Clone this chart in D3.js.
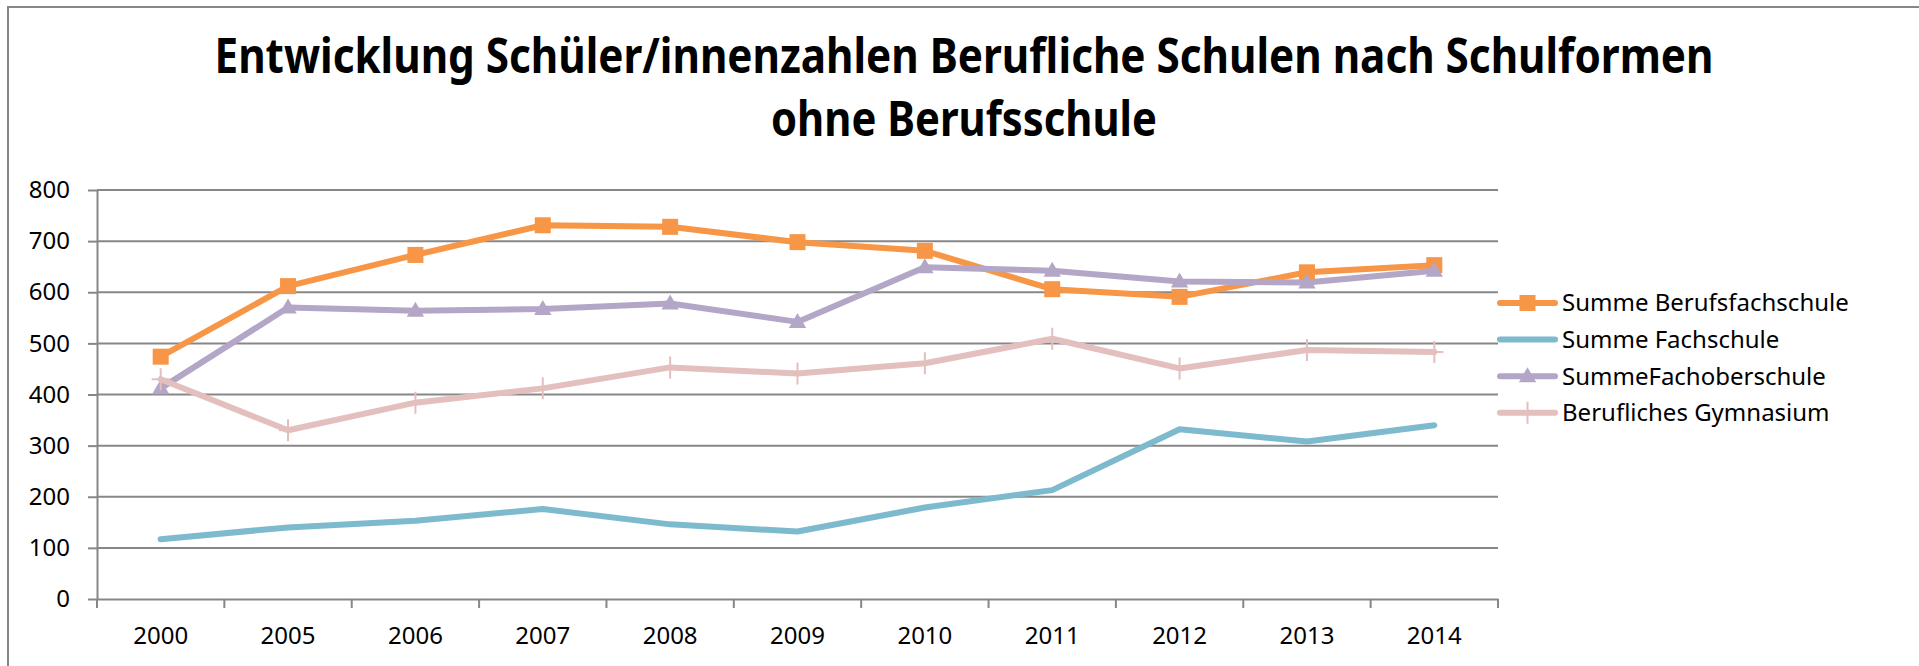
<!DOCTYPE html>
<html>
<head>
<meta charset="utf-8">
<script src="https://cdn.jsdelivr.net/npm/d3@7"></script>
<style>
  body { margin: 0; background: #fff; }
  svg { display: block; font-family: "Noto Sans", sans-serif; }
</style>
</head>
<body>
<div id="chart"></div>
<script>
const width = 1919;
const height = 666;
const margin = {top: 190, right: 421, bottom: 67, left: 97};

// ------- data --------//
const years = ["2000", "2005", "2006", "2007", "2008", "2009", "2010", "2011", "2012", "2013", "2014"];
const berufsfachschule = [474, 612, 673, 731, 728, 698, 681, 606, 591, 639, 653];
const fachschule = [117, 140, 153, 176, 146, 132, 179, 213, 332, 308, 340];
const fachoberschule = [412, 570, 564, 567, 578, 542, 649, 642, 621, 619, 642];
const gymnasium = [430, 330, 384, 412, 453, 441, 461, 509, 451, 487, 483];
const yTicks = [0, 100, 200, 300, 400, 500, 600, 700, 800];
const titleLines = ["Entwicklung Schüler/innenzahlen Berufliche Schulen nach Schulformen", "ohne Berufsschule"];

const series = [
  {name: "Summe Berufsfachschule", values: berufsfachschule, color: "#F79646", marker: "square"},
  {name: "Summe Fachschule", values: fachschule, color: "#7DBACD", marker: "none"},
  {name: "SummeFachoberschule", values: fachoberschule, color: "#B3A6C6", marker: "triangle"},
  {name: "Berufliches Gymnasium", values: gymnasium, color: "#E3BFBE", marker: "plus"}
];

const gridColor = "#878787";

// ------- scales --------//
const xScale = d3.scaleBand()
  .domain(years)
  .range([margin.left, width - margin.right])
  .padding(0);

const yScale = d3.scaleLinear()
  .domain([0, 800])
  .range([height - margin.bottom, margin.top]);

const cx = d => xScale(d) + xScale.bandwidth() / 2;

const svg = d3.select("#chart")
  .append("svg")
  .attr("width", width)
  .attr("height", height);

// chart border (left and top visible)
svg.append("path")
  .attr("d", `M8,${height}V7H${width}`)
  .attr("fill", "none")
  .attr("stroke", gridColor)
  .attr("stroke-width", 2);

// ------- title --------//
const titleW = [1499, 386];
titleLines.forEach((t, i) => {
  svg.append("text")
    .attr("x", 964)
    .attr("y", 73 + i * 63)
    .attr("text-anchor", "middle")
    .attr("font-size", 48)
    .attr("font-weight", "bold")
    .attr("fill", "#000")
    .attr("textLength", titleW[i])
    .attr("lengthAdjust", "spacingAndGlyphs")
    .text(t);
});

// ------- grid --------//
svg.append("g")
  .selectAll("line")
  .data(yTicks.filter(d => d > 0))
  .join("line")
    .attr("x1", margin.left)
    .attr("x2", width - margin.right)
    .attr("y1", d => yScale(d))
    .attr("y2", d => yScale(d))
    .attr("stroke", gridColor)
    .attr("stroke-width", 2);

// ------- axes --------//
const yAxis = d3.axisLeft(yScale)
  .tickValues(yTicks)
  .tickSizeInner(9)
  .tickSizeOuter(0)
  .tickPadding(18);

const gy = svg.append("g")
  .attr("transform", `translate(${margin.left},0)`)
  .call(yAxis);
gy.select(".domain").attr("stroke", gridColor).attr("stroke-width", 2);
gy.selectAll(".tick line").attr("stroke", gridColor).attr("stroke-width", 2);
gy.selectAll("text").attr("font-size", 24).attr("fill", "#000").attr("font-family", "Noto Sans");

const xAxis = d3.axisBottom(xScale)
  .tickSize(0)
  .tickPadding(28);

const gx = svg.append("g")
  .attr("transform", `translate(0,${yScale(0)})`)
  .call(xAxis);
gx.select(".domain").attr("stroke", gridColor).attr("stroke-width", 2);
gx.selectAll("text").attr("font-size", 24).attr("fill", "#000").attr("font-family", "Noto Sans");

// category ticks sit between the categories
const edges = years.map(d => xScale(d)).concat([xScale(years[years.length - 1]) + xScale.bandwidth()]);
gx.append("g")
  .selectAll("line")
  .data(edges)
  .join("line")
    .attr("x1", d => d)
    .attr("x2", d => d)
    .attr("y1", 0)
    .attr("y2", 9)
    .attr("stroke", gridColor)
    .attr("stroke-width", 2);

// ------- lines --------//
const line = d3.line()
  .x((d, i) => cx(years[i]))
  .y(d => yScale(d));

const triangle = d3.symbol().type(d3.symbolTriangle).size(130);

function drawMarker(g, marker, color) {
  if (marker === "square") {
    g.append("rect")
      .attr("x", -8).attr("y", -8)
      .attr("width", 16).attr("height", 16)
      .attr("fill", color);
  } else if (marker === "triangle") {
    g.append("path")
      .attr("d", triangle())
      .attr("transform", "translate(0,1)")
      .attr("fill", color);
  } else if (marker === "plus") {
    g.append("path")
      .attr("d", "M0,-11V11M-9,0H9")
      .attr("stroke", color)
      .attr("stroke-width", 2)
      .attr("fill", "none");
  }
}

const plot = svg.append("g");

series.forEach(s => {
  const g = plot.append("g");
  g.append("path")
    .attr("d", line(s.values))
    .attr("fill", "none")
    .attr("stroke", s.color)
    .attr("stroke-width", 6)
    .attr("stroke-linejoin", "round")
    .attr("stroke-linecap", "round");

  s.values.forEach((v, i) => {
    const m = g.append("g")
      .attr("transform", `translate(${cx(years[i])},${yScale(v)})`);
    drawMarker(m, s.marker, s.color);
  });
});

// ------- legend --------//
const legend = svg.append("g")
  .attr("transform", "translate(1498,303)");

series.forEach((s, i) => {
  const row = legend.append("g")
    .attr("transform", `translate(0,${i * 36.6})`);
  row.append("line")
    .attr("x1", 2).attr("x2", 57)
    .attr("y1", 0).attr("y2", 0)
    .attr("stroke", s.color)
    .attr("stroke-width", 6)
    .attr("stroke-linecap", "round");
  const m = row.append("g").attr("transform", "translate(29.5,0)");
  drawMarker(m, s.marker, s.color);
  row.append("text")
    .attr("x", 64)
    .attr("y", 0)
    .attr("dy", "0.35em")
    .attr("font-size", 24)
    .attr("fill", "#000")
    .text(s.name);
});
</script>
</body>
</html>
